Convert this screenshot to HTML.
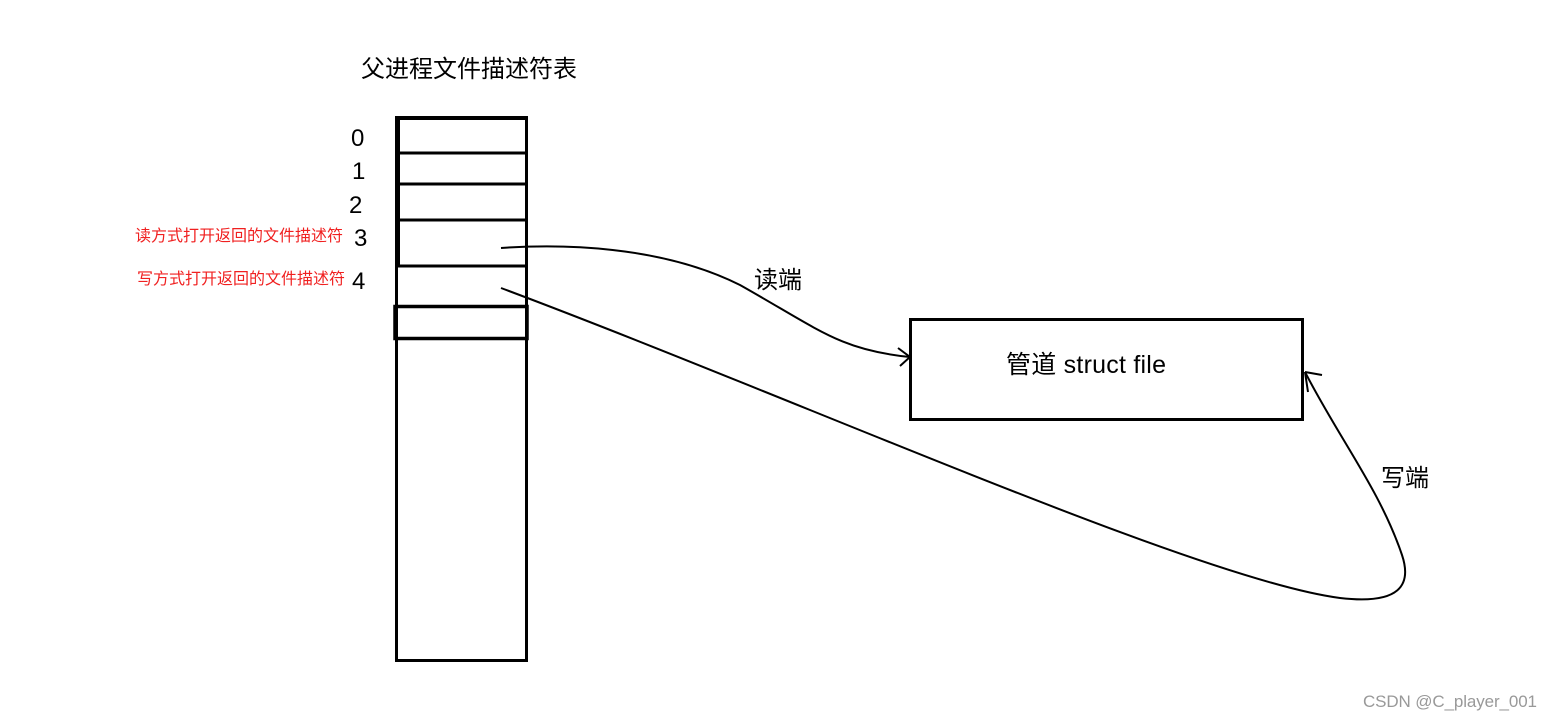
<!DOCTYPE html>
<html><head><meta charset="utf-8"><style>
body{margin:0;background:#fff;width:1552px;height:720px;overflow:hidden}
svg text{font-family:"Liberation Sans","Noto Sans CJK SC",sans-serif}
</style></head><body>
<svg width="1552" height="720" viewBox="0 0 1552 720" xmlns="http://www.w3.org/2000/svg">
<g fill="none" stroke="#000" stroke-width="3">
<rect x="396.5" y="117.5" width="130" height="543"/>
<line x1="396" y1="153" x2="526" y2="153"/>
<line x1="396" y1="184" x2="526" y2="184"/>
<line x1="396" y1="220" x2="526" y2="220"/>
<line x1="396" y1="266" x2="526" y2="266"/>
<rect x="395" y="306.5" width="132" height="32" stroke-width="3.5"/>
<line x1="398" y1="117" x2="398" y2="266" stroke-width="4"/>
<line x1="396" y1="118" x2="526" y2="118" stroke-width="4"/>
<rect x="910.5" y="319.5" width="392" height="100"/>
</g>
<g fill="none" stroke="#000" stroke-width="2">
<path d="M501 248 C 560 244, 660 245, 740 285 C 820 330, 840 350, 910 357"/>
<path d="M898 348 L910 357 L900 366"/>
<path d="M501 288 C 800 400, 1200 580, 1340 598 C 1400 605, 1412 585, 1402 555 C 1380 490, 1340 440, 1305 372"/>
<path d="M1305 372 L1322 375 M1305 372 L1308 392"/>
</g>
<text x="361" y="77" font-size="24">父进程文件描述符表</text>
<g font-size="24">
<text x="351" y="146">0</text>
<text x="352" y="179">1</text>
<text x="349" y="213">2</text>
<text x="354" y="246">3</text>
<text x="352" y="289">4</text>
</g>
<text x="135" y="241" font-size="16" fill="#f02020">读方式打开返回的文件描述符</text>
<text x="137" y="284" font-size="16" fill="#f02020">写方式打开返回的文件描述符</text>
<text x="754" y="288" font-size="24" textLength="48">读端</text>
<text x="1381" y="486" font-size="24" textLength="48">写端</text>
<text x="1006" y="373" font-size="25" textLength="160">管道 struct file</text>
<text x="1363" y="707" font-size="17" fill="#999" textLength="174">CSDN @C_player_001</text>
</svg>
</body></html>
